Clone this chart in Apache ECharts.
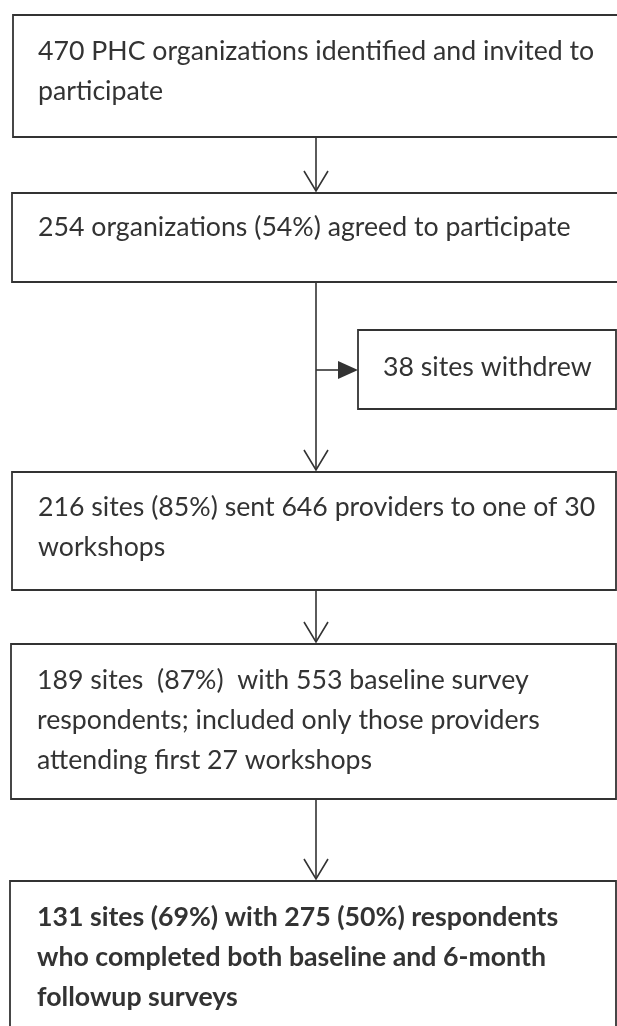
<!DOCTYPE html>
<html>
<head>
    <meta charset="utf-8">
    <title>Participation flowchart</title>
    <script src="https://cdn.jsdelivr.net/npm/echarts@6.0.0/dist/echarts.min.js"></script>
    <style>
        body { margin: 0; padding: 0; background: #fff; }
        #chart { width: 617px; height: 1026px; }
    </style>
</head>
<body>
    <div id="chart"></div>
    <script>
        // box texts, one entry per line
        const box1Lines = ['470 PHC organizations identified and invited to', 'participate'];
        const box2Lines = ['254 organizations (54%) agreed to participate'];
        const box3Lines = ['216 sites (85%) sent 646 providers to one of 30', 'workshops'];
        const box4Lines = ['189 sites  (87%)  with 553 baseline survey', 'respondents; included only those providers', 'attending first 27 workshops'];
        const box5Lines = ['131 sites (69%) with 275 (50%) respondents', 'who completed both baseline and 6-month', 'followup surveys'];
        const sideLabel = '38 sites withdrew';

        const allLines = [box1Lines, box2Lines, box3Lines, box4Lines, box5Lines];
        const boldBox = [false, false, false, false, true];

        // layout (pixels)
        const boxLeft = [13, 12, 12, 11, 10];
        const boxRight = [630, 630, 616, 616, 616];
        const boxTop = [15, 193, 472, 644, 881];
        const boxBottom = [137, 282, 590, 799, 1060];
        const firstBaseline = [57, 233, 513, 686, 923];
        const lineGap = 40;
        const textLeft = 38;
        const stemX = 316;
        const ink = '#333';
        const fontSize = 26.7;
        const fontFamily = 'Lato, "Open Sans", sans-serif';

        const chart = echarts.init(document.getElementById('chart'));
        const g = [];

        function rect(x1, y1, x2, y2) {
            g.push({
                type: 'rect',
                shape: { x: x1, y: y1, width: x2 - x1, height: y2 - y1 },
                style: { fill: '#fff', stroke: ink, lineWidth: 1.8 }
            });
        }
        function line(x1, y1, x2, y2) {
            g.push({
                type: 'line',
                shape: { x1: x1, y1: y1, x2: x2, y2: y2 },
                style: { stroke: ink, lineWidth: 1.6 }
            });
        }
        function openHead(x, tipY) {
            g.push({
                type: 'polyline',
                shape: { points: [[x - 12, tipY - 20], [x, tipY], [x + 12, tipY - 20]] },
                style: { stroke: ink, lineWidth: 1.6, fill: null }
            });
        }
        function label(text, x, baseline, bold) {
            g.push({
                type: 'text',
                style: {
                    text: text,
                    x: x,
                    y: baseline - 6,
                    verticalAlign: 'middle',
                    fill: ink,
                    font: (bold ? 'bold ' : '') + fontSize + 'px ' + fontFamily
                }
            });
        }

        allLines.forEach((lines, i) => {
            rect(boxLeft[i], boxTop[i], boxRight[i], boxBottom[i]);
            lines.forEach((t, j) => label(t, textLeft - (i >= 3 ? 1 : 0), firstBaseline[i] + j * lineGap, boldBox[i]));
        });

        // connectors between boxes
        for (let i = 0; i < allLines.length - 1; i++) {
            line(stemX, boxBottom[i], stemX, boxTop[i + 1] - 2);
            openHead(stemX, boxTop[i + 1] - 2);
        }

        // side branch to the withdrawn box
        const sideY = 370;
        rect(358, 330, 616, 409);
        line(stemX, sideY, 345, sideY);
        g.push({
            type: 'polygon',
            shape: { points: [[338, sideY - 9], [358, sideY], [338, sideY + 9]] },
            style: { fill: ink }
        });
        label(sideLabel, 383, 373, false);

        chart.setOption({ backgroundColor: '#fff', graphic: g });
    </script>
</body>
</html>
